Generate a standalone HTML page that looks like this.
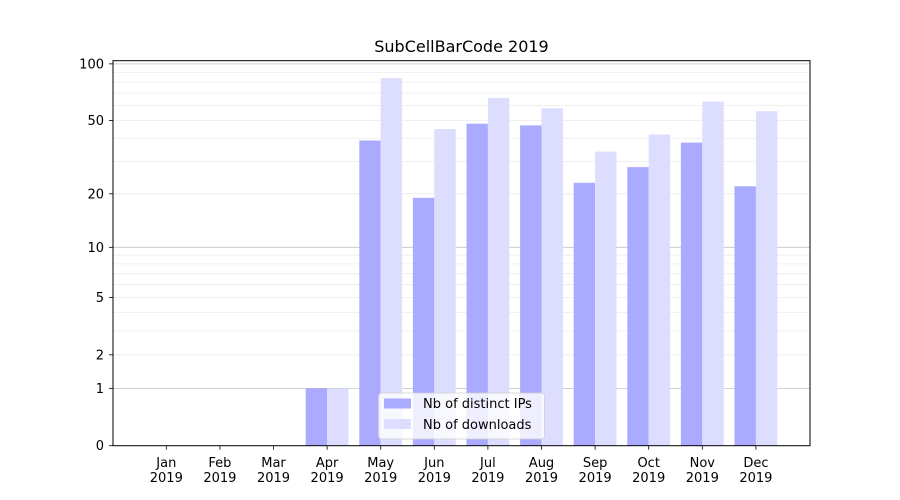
<!DOCTYPE html>
<html><head><meta charset="utf-8"><style>
body{margin:0;background:#fff;}
svg{display:block;font-family:"DejaVu Sans","Liberation Sans",sans-serif;}
</style></head><body>
<svg id="s" width="900" height="500" xmlns="http://www.w3.org/2000/svg"></svg>
<script>
const s=document.getElementById('s');
const Y=v=>445.7-190.5*Math.log10(v+1);
let h='<rect width="900" height="500" fill="#fff"/>';
const minors=[];
for(let d of [1,10])for(let k=2;k<=9;k++)minors.push(d*k);
for(const m of minors){
 h+=`<line x1="113" x2="810" y1="${Y(m).toFixed(1)}" y2="${Y(m).toFixed(1)}" stroke="#ececec" stroke-width="0.8"/>`;}
for(const m of [1,10,100])h+=`<line x1="113" x2="810" y1="${Y(m).toFixed(1)}" y2="${Y(m).toFixed(1)}" stroke="#c4c4c4" stroke-width="0.8"/>`;
const ips=[0,0,0,1,39,19,48,47,23,28,38,22];
const dls=[0,0,0,1,84,45,66,58,34,42,63,56];
const mon=['Jan','Feb','Mar','Apr','May','Jun','Jul','Aug','Sep','Oct','Nov','Dec'];
const c0=166.3,sp=53.6,w=21.4;
for(let i=0;i<12;i++){
 const c=c0+i*sp;
 if(ips[i]>0)h+=`<rect x="${c-w}" y="${Y(ips[i])}" width="${w}" height="${445.7-Y(ips[i])}" fill="#aaaaff"/>`;
 if(dls[i]>0)h+=`<rect x="${c}" y="${Y(dls[i])}" width="${w}" height="${445.7-Y(dls[i])}" fill="#ddddff"/>`;
 h+=`<line x1="${c}" x2="${c}" y1="445.7" y2="449.7" stroke="#000" stroke-width="0.8"/>`;
 h+=`<text x="${c}" y="467" font-size="13" text-anchor="middle">${mon[i]}</text><text x="${c}" y="482" font-size="13" text-anchor="middle">2019</text>`;
}
for(const [v,l] of [[0,'0'],[1,'1'],[2,'2'],[5,'5'],[10,'10'],[20,'20'],[50,'50'],[100,'100']]){
 const y=Y(v);
 h+=`<line x1="109" x2="113" y1="${y}" y2="${y}" stroke="#000" stroke-width="0.8"/><text x="104" y="${y+4.5}" font-size="13" text-anchor="end">${l}</text>`;
}
h+=`<rect x="113" y="60.7" width="697" height="385" fill="none" stroke="#000" stroke-width="1"/>`;
h+=`<text x="461.5" y="52" font-size="16" text-anchor="middle">SubCellBarCode 2019</text>`;
h+=`<rect x="378.5" y="393" width="166" height="46" rx="3" fill="#fff" fill-opacity="0.8" stroke="#d0d0d0" stroke-width="0.8"/>`;
h+=`<rect x="384" y="398.5" width="27" height="10" fill="#aaaaff"/><text x="423" y="408" font-size="13">Nb of distinct IPs</text>`;
h+=`<rect x="384" y="419" width="27" height="10" fill="#ddddff"/><text x="423" y="429" font-size="13">Nb of downloads</text>`;
s.innerHTML=h;
</script>
</body></html>
